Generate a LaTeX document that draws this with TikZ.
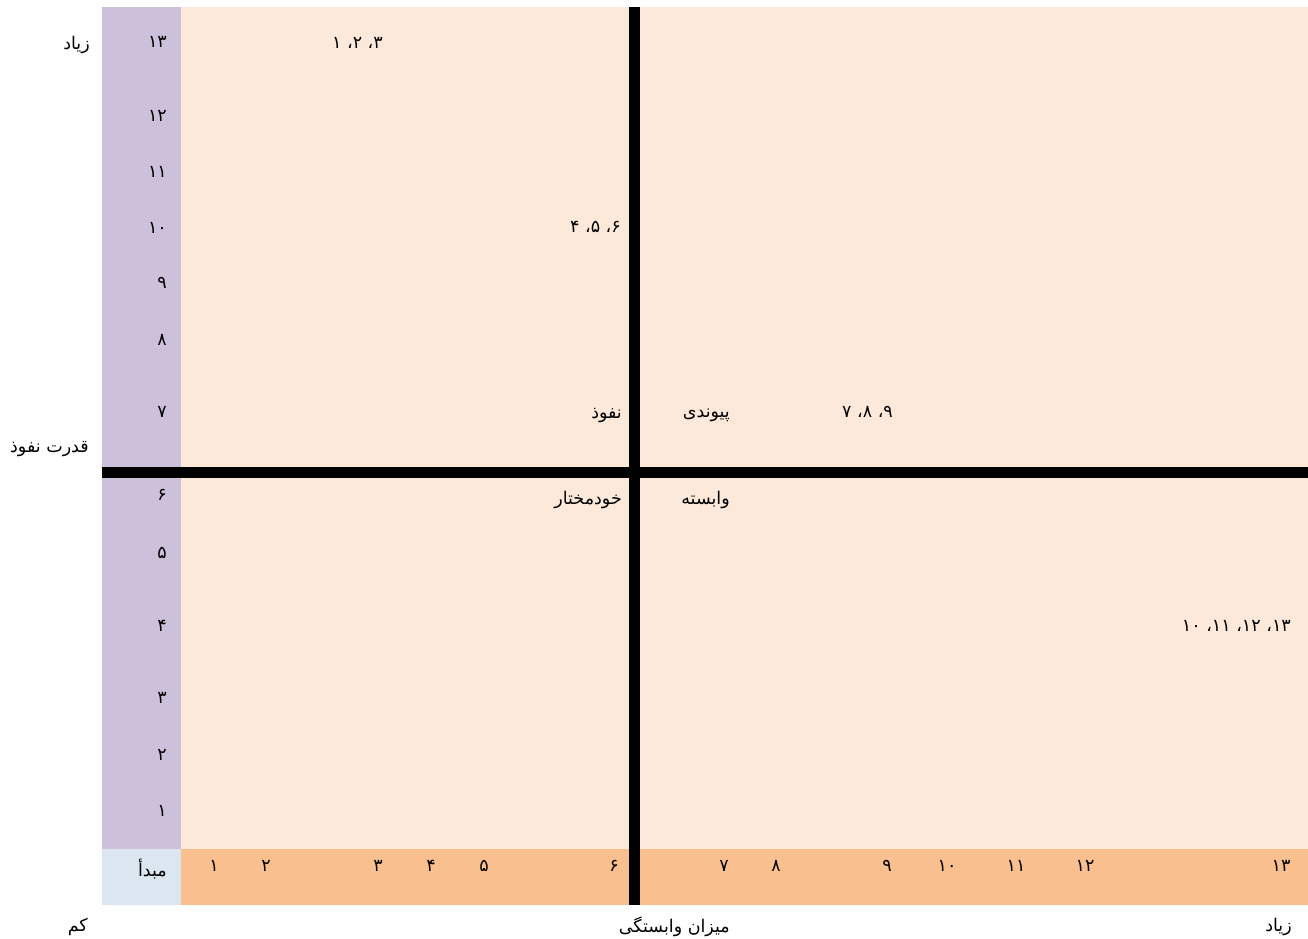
\documentclass[tikz,border=0pt]{standalone}
\usepackage{fontspec}
\usepackage{tikz}
\TeXXeTstate=1
\newfontfamily\fafont[Script=Arabic]{DejaVu Sans}
\definecolor{peachBg}{HTML}{FDE9D9}
\definecolor{lilacBg}{HTML}{CCC0DA}
\definecolor{orangeBg}{HTML}{FABF8F}
\definecolor{blueBg}{HTML}{DCE6F1}

\begin{document}
\begin{tikzpicture}[x=1pt, y=-1pt, font=\fafont\fontsize{17.5}{21}\selectfont,
    every node/.style={inner sep=0pt}, rlabel/.style={anchor=east},
    wlabel/.style={anchor=east, yshift=-3pt}]
    \useasboundingbox (0,0) rectangle (1308,938);

    % ---------- cells ----------
    \fill[peachBg] (181,7) rectangle (1308,849);
    \fill[lilacBg] (102,7) rectangle (181,849);
    \fill[blueBg] (102,849) rectangle (181,905);
    \fill[orangeBg] (181,849) rectangle (1308,905);

    % ---------- quadrant bars ----------
    \fill (629,7) rectangle (640,905);
    \fill (102,467) rectangle (1308,478);

    % ---------- axes ----------
    \foreach \y/\l [count=\i] in {811/۱, 755/۲, 698/۳, 626/۴, 553/۵, 495/۶, 412/۷,
        340/۸, 283/۹, 228/۱۰, 172/۱۱, 116/۱۲, 42/۱۳} {
        \node[rlabel] (ytick\i) at (167,\y) {\l};
    }
    \foreach \x/\l [count=\i] in {214/۱, 266/۲, 378/۳, 431/۴, 484/۵, 614/۶, 724/۷,
        776/۸, 887/۹, 947/۱۰, 1016/۱۱, 1085/۱۲, 1281/۱۳} {
        \node (xtick\i) at (\x,866) {\l};
    }
    \node[wlabel] (origin) at (167,866) {\beginR مبدأ\endR};
    \node[wlabel] (yhigh) at (90,42) {\beginR زیاد\endR};
    \node[wlabel] (ytitle) at (89,446) {\beginR قدرت نفوذ\endR};
    \node[wlabel] (xlow) at (88,924) {\beginR کم\endR};
    \node[wlabel] (xtitle) at (730,924) {\beginR میزان وابستگی\endR};
    \node[wlabel] (xhigh) at (1292,924) {\beginR زیاد\endR};

    % ---------- quadrants ----------
    \node[wlabel] (driving) at (622,412) {\beginR نفوذ\endR};
    \node[wlabel] (linkage) at (730,412) {\beginR پیوندی\endR};
    \node[wlabel] (autonomous) at (622,497) {\beginR خودمختار\endR};
    \node[wlabel] (dependent) at (730,497) {\beginR وابسته\endR};

    % ---------- factors ----------
    \node[rlabel] (set1) at (383,43) {\beginR ۳، ۲، ۱\endR};
    \node[rlabel] (set2) at (621,227) {\beginR ۶، ۵، ۴\endR};
    \node[rlabel] (set3) at (893,412) {\beginR ۹، ۸، ۷\endR};
    \node[rlabel] (set4) at (1291,626) {\beginR ۱۳، ۱۲، ۱۱، ۱۰\endR};
\end{tikzpicture}
\end{document}
